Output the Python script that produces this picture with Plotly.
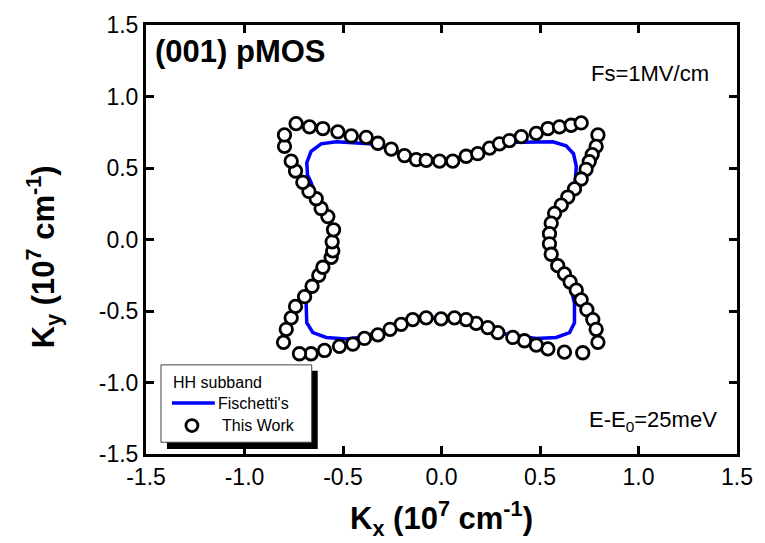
import plotly.graph_objects as go

# "This Work" contour points (Kx, Ky) in 1e7 cm^-1
work_kx = [-0.738, -0.670, -0.602, -0.526, -0.458, -0.382, -0.323, -0.255, -0.188, -0.128, -0.078, -0.010,
           0.057, 0.125, 0.184, 0.244, 0.294, 0.345, 0.405, 0.481, 0.540, 0.599, 0.658, 0.709,
           0.794, 0.785, 0.765, 0.750, 0.734, 0.709, 0.675, 0.641, 0.608, 0.574, 0.557, 0.548, 0.548, 0.557,
           0.590, 0.624, 0.653, 0.684, 0.709, 0.738, 0.768, 0.785, 0.794,
           0.717, 0.624, 0.540, 0.481, 0.421, 0.362, 0.286, 0.235, 0.176, 0.125, 0.066, -0.002, -0.078,
           -0.146, -0.205, -0.261, -0.323, -0.391, -0.450, -0.518, -0.594, -0.662, -0.721,
           -0.802, -0.788, -0.763, -0.741, -0.695, -0.657, -0.623, -0.602, -0.560, -0.552, -0.555, -0.548,
           -0.577, -0.611, -0.636, -0.673, -0.704, -0.741, -0.763, -0.797, -0.797]
work_ky = [0.810, 0.788, 0.776, 0.753, 0.724, 0.714, 0.673, 0.632, 0.587, 0.559, 0.553, 0.548,
           0.548, 0.582, 0.600, 0.639, 0.669, 0.692, 0.719, 0.742, 0.776, 0.788, 0.799, 0.815,
           0.731, 0.651, 0.594, 0.545, 0.491, 0.423, 0.354, 0.297, 0.240, 0.183, 0.114, 0.041, -0.030, -0.103,
           -0.183, -0.240, -0.297, -0.354, -0.422, -0.491, -0.560, -0.628, -0.719,
           -0.792, -0.788, -0.765, -0.738, -0.708, -0.685, -0.651, -0.616, -0.587, -0.560, -0.548, -0.555, -0.548,
           -0.560, -0.594, -0.628, -0.667, -0.692, -0.731, -0.747, -0.776, -0.799, -0.799,
           -0.719, -0.628, -0.548, -0.468, -0.400, -0.327, -0.251, -0.194, -0.125, -0.080, -0.016, 0.068,
           0.160, 0.217, 0.285, 0.336, 0.400, 0.479, 0.548, 0.651, 0.731]

# Fischetti's contour (closed line)
fis_kx = [0.000, 0.125, 0.244, 0.345, 0.413, 0.565, 0.633, 0.670, 0.684, 0.680, 0.670, 0.641, 0.608, 0.574,
          0.557, 0.548, 0.548, 0.557, 0.590, 0.624, 0.653, 0.667, 0.675, 0.675, 0.650, 0.582, 0.481, 0.328,
          0.235, 0.125, 0.066, -0.002, -0.078, -0.146, -0.261, -0.416, -0.484, -0.585, -0.653, -0.684, -0.687,
          -0.673, -0.657, -0.623, -0.602, -0.560, -0.552, -0.555, -0.548, -0.577, -0.611, -0.636, -0.662,
          -0.680, -0.684, -0.662, -0.611, -0.535, -0.450, -0.365, -0.255, -0.128, 0.000]
fis_ky = [0.550, 0.582, 0.639, 0.680, 0.680, 0.683, 0.655, 0.600, 0.514, 0.423, 0.354, 0.297, 0.240, 0.183,
          0.114, 0.041, -0.030, -0.103, -0.183, -0.240, -0.297, -0.400, -0.445, -0.582, -0.651, -0.685, -0.692,
          -0.662, -0.616, -0.560, -0.548, -0.555, -0.548, -0.560, -0.628, -0.685, -0.696, -0.685, -0.651,
          -0.582, -0.445, -0.400, -0.327, -0.251, -0.194, -0.125, -0.080, -0.016, 0.068, 0.160, 0.217, 0.285,
          0.400, 0.450, 0.537, 0.616, 0.669, 0.683, 0.678, 0.669, 0.632, 0.559, 0.550]

tick_vals = [-1.5, -1.0, -0.5, 0.0, 0.5, 1.0, 1.5]
tick_text = ["-1.5", "-1.0", "-0.5", "0.0", "0.5", "1.0", "1.5"]

legend_title = "HH subband"
legend_names = ["Fischetti's", "This Work"]

FONT = "Arial, Liberation Sans, sans-serif"
BLUE = "#0000ff"

# plot area in pixels: x 146..738, y 16..454
L, R, T, B = 146, 27, 16, 89
W, H = 765, 543
PW, PH = W - L - R, H - T - B


def px(x):
    return (x - L) / PW


def py(y):
    return (H - B - y) / PH


fig = go.Figure()
fig.add_trace(go.Scatter(x=fis_kx, y=fis_ky, mode="lines", name=legend_names[0],
                         line=dict(color=BLUE, width=3.5)))
fig.add_trace(go.Scatter(x=work_kx, y=work_ky, mode="markers", name=legend_names[1],
                         marker=dict(symbol="circle", size=12.5, color="white",
                                     line=dict(color="black", width=2.8))))

axis_common = dict(range=[-1.5, 1.5], tickvals=tick_vals, ticktext=tick_text,
                   showline=True, linewidth=3, linecolor="black", mirror="ticks",
                   ticks="inside", ticklen=8, tickwidth=3, tickcolor="black",
                   showgrid=False, zeroline=False,
                   tickfont=dict(family=FONT, size=23, color="black"))

shapes = [
    # legend shadow
    dict(type="rect", xref="paper", yref="paper", x0=px(167), x1=px(318), y0=py(449), y1=py(369),
         fillcolor="black", line=dict(width=0), layer="above"),
    # legend box
    dict(type="rect", xref="paper", yref="paper", x0=px(161), x1=px(312), y0=py(442), y1=py(363),
         fillcolor="white", line=dict(color="#444444", width=1), layer="above"),
    # legend line sample
    dict(type="line", xref="paper", yref="paper", x0=px(172), x1=px(215), y0=py(402), y1=py(402),
         line=dict(color=BLUE, width=3.5), layer="above"),
    # legend marker sample
    dict(type="circle", xref="paper", yref="paper", xsizemode="pixel", ysizemode="pixel",
         xanchor=px(192), yanchor=py(425), x0=-6, x1=6, y0=-6, y1=6,
         fillcolor="white", line=dict(color="black", width=2.8), layer="above"),
]

fig.update_layout(
    width=W, height=H,
    margin=dict(l=L, r=R, t=T, b=B),
    paper_bgcolor="white", plot_bgcolor="white",
    xaxis=axis_common,
    yaxis=axis_common,
    showlegend=False,
    shapes=shapes,
    annotations=[
        dict(text="<b>(001) pMOS</b>", xref="paper", yref="paper", x=px(153), y=py(43),
             xanchor="left", yanchor="middle", showarrow=False,
             font=dict(family=FONT, size=31, color="black")),
        dict(text="Fs=1MV/cm", xref="paper", yref="paper", x=px(590), y=py(66),
             xanchor="left", yanchor="middle", showarrow=False,
             font=dict(family=FONT, size=22, color="black")),
        dict(text="E-E<sub>0</sub>=25meV", xref="paper", yref="paper", x=px(588),
             y=py(420), xanchor="left", yanchor="middle", showarrow=False,
             font=dict(family=FONT, size=22, color="black")),
        dict(text="<b>K<sub>x</sub> (10<sup>7</sup> cm<sup>-1</sup>)</b>", xref="paper", yref="paper",
             x=0.5, y=py(520), xanchor="center", yanchor="middle", showarrow=False,
             font=dict(family=FONT, size=31, color="black")),
        dict(text="<b>K<sub>y</sub> (10<sup>7</sup> cm<sup>-1</sup>)</b>", xref="paper", yref="paper",
             x=px(43), y=py(253), xanchor="center", yanchor="middle",
             textangle=-90, showarrow=False,
             font=dict(family=FONT, size=31, color="black")),
        # manual legend texts
        dict(text=legend_title, xref="paper", yref="paper", x=px(171), y=py(381),
             xanchor="left", yanchor="middle", showarrow=False,
             font=dict(family=FONT, size=16, color="black")),
        dict(text=legend_names[0], xref="paper", yref="paper", x=px(216), y=py(402),
             xanchor="left", yanchor="middle", showarrow=False,
             font=dict(family=FONT, size=16, color="black")),
        dict(text=legend_names[1], xref="paper", yref="paper", x=px(220), y=py(425),
             xanchor="left", yanchor="middle", showarrow=False,
             font=dict(family=FONT, size=16, color="black")),
    ],
)

fig.write_html("out.html")
